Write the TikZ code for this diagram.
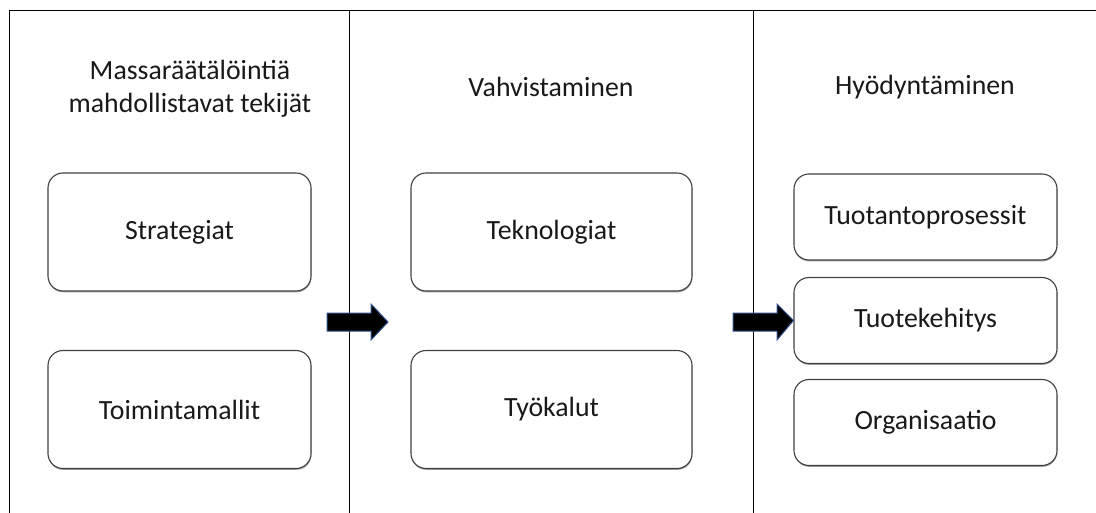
\documentclass[tikz,border=0pt]{standalone}
\usepackage{fontspec}
\setmainfont{Carlito}
\usetikzlibrary{shadows}

\definecolor{boxline}{HTML}{404040}
\definecolor{arrowline}{HTML}{2F528F}

\tikzset{
    stepbox/.style={rectangle, rounded corners=7.5pt, draw=boxline, line width=0.55pt, fill=white,
        drop shadow={shadow xshift=0.2pt, shadow yshift=-0.7pt, fill=black!45, opacity=0.8},
        align=center, text=black!90, font=\fontsize{13.9}{16.5}\selectfont},
    heading/.style={align=center, text=black!90, font=\fontsize{13.9}{16.5}\selectfont},
    blockarrow/.style={fill=black, draw=arrowline, line width=0.5pt}
}

\begin{document}
\begin{tikzpicture}[x=0.5pt, y=-0.5pt]  % one unit is one pixel of the 1096x513 sketch
    \useasboundingbox (0,0) rectangle (1096,513);

    % Frame
    \draw[line width=0.5pt] (9,513) -- (9,11) -- (1096,11);  % left edge and top edge
    \draw[line width=0.5pt] (349,11) -- (349,513);  % first column divider
    \draw[line width=0.5pt] (753,11) -- (753,513);  % second column divider

    % Headings
    \node[heading] (enablers) at (190,89) {Massaräätälöintiä\\mahdollistavat tekijät};  % first column title
    \node[heading] (strengthen) at (551,87) {Vahvistaminen};  % second column title
    \node[heading] (utilize) at (925,87) {Hyödyntäminen};  % third column title

    % Nodes
    \node[stepbox, minimum width=131.5pt, minimum height=59pt] (strategies) at (179.5,232) {Strategiat};  % first column, upper box
    \node[stepbox, minimum width=131.5pt, minimum height=59pt] (models) at (179.5,409.5) {Toimintamallit};  % first column, lower box
    \node[stepbox, minimum width=140.5pt, minimum height=59pt] (technologies) at (551.5,232) {Teknologiat};  % second column, upper box
    \node[stepbox, minimum width=140.5pt, minimum height=59pt] (tools) at (551.5,409.5) {Työkalut};  % second column, lower box
    \node[stepbox, minimum width=131.5pt, minimum height=43pt] (production) at (925.5,217) {Tuotantoprosessit};  % third column, top box
    \node[stepbox, minimum width=131.5pt, minimum height=43pt] (development) at (925.5,320.5) {Tuotekehitys};  % third column, middle box
    \node[stepbox, minimum width=131.5pt, minimum height=43pt] (organisation) at (925.5,422.5) {Organisaatio};  % third column, bottom box

    % Block arrows
    \draw[blockarrow] (327,313) -- (371,313) -- (371,304) -- (388,322) -- (371,340) -- (371,331) -- (327,331) -- cycle;  % from first column to second
    \draw[blockarrow] (733,313) -- (777,313) -- (777,304) -- (development.west) -- (777,340) -- (777,331) -- (733,331) -- cycle;  % from second column to third
\end{tikzpicture}
\end{document}
